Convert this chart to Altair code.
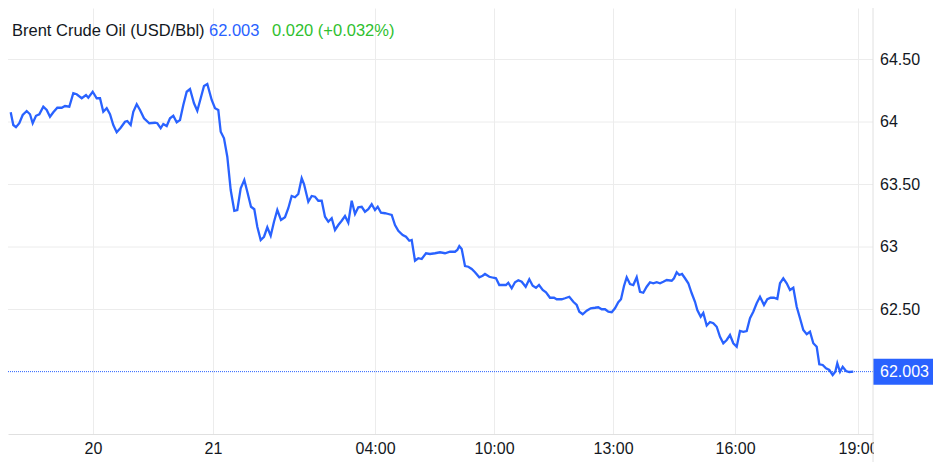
import altair as alt
import pandas as pd

# ---- data ----
bar_pos = [
    1.07, 1.33, 1.6, 1.93, 2.27, 2.67, 3.0, 3.27, 3.6, 3.93,
    4.33, 4.67, 5.0, 5.33, 5.73, 6.17, 6.5, 6.93, 7.33, 7.67,
    8.17, 8.6, 8.83, 9.27, 9.67, 10.0, 10.33, 10.67, 11.0, 11.33,
    11.67, 12.07, 12.5, 12.73, 13.07, 13.33, 13.67, 14.0, 14.4, 14.93,
    15.5, 15.73, 16.07, 16.33, 16.67, 17.0, 17.33, 17.67, 18.0, 18.33,
    18.67, 19.0, 19.4, 19.73, 20.07, 20.4, 20.73, 21.17, 21.5, 21.83,
    22.07, 22.4, 22.73, 23.07, 23.43, 23.73, 24.07, 24.43, 24.73, 25.1,
    25.43, 25.73, 26.07, 26.4, 26.73, 27.07, 27.4, 27.73, 28.1, 28.5,
    28.83, 29.17, 29.5, 29.83, 30.17, 30.4, 30.83, 31.17, 31.5, 31.83,
    32.17, 32.5, 32.83, 33.17, 33.5, 33.83, 34.17, 34.5, 34.83, 35.17,
    35.5, 35.83, 36.17, 36.5, 36.83, 37.17, 37.5, 37.77, 38.1, 38.5,
    38.83, 39.17, 39.5, 39.83, 40.27, 40.6, 40.93, 41.17, 41.5, 41.83,
    42.17, 42.6, 43.0, 43.5, 44.0, 44.5, 45.0, 45.5, 45.73, 45.93,
    46.17, 46.5, 46.83, 47.17, 47.5, 47.93, 48.27, 48.5, 48.93, 49.33,
    49.6, 49.93, 50.33, 50.6, 50.83, 51.17, 51.5, 51.83, 52.17, 52.57,
    52.93, 53.27, 53.6, 53.9, 54.27, 54.6, 55.0, 55.4, 55.67, 56.17,
    56.5, 56.93, 57.33, 57.67, 57.93, 58.27, 58.67, 59.07, 59.5, 59.83,
    60.17, 60.5, 60.83, 61.17, 61.5, 61.83, 62.1, 62.4, 62.67, 63.0,
    63.33, 63.67, 64.0, 64.33, 64.67, 65.0, 65.33, 65.67, 66.0, 66.33,
    66.67, 67.17, 67.4, 67.67, 67.93, 68.2, 68.5, 68.83, 69.17, 69.5,
    69.73, 70.07, 70.33, 70.67, 71.0, 71.33, 71.67, 72.0, 72.33, 72.67,
    73.0, 73.33, 73.67, 74.0, 74.33, 74.67, 75.0, 75.33, 75.67, 76.0,
    76.4, 76.73, 77.07, 77.4, 77.73, 78.0, 78.33, 78.67, 79.0, 79.33,
    79.67, 80.0, 80.33, 80.67, 81.0, 81.33, 81.67, 81.93, 82.27, 82.6,
    82.93, 83.27, 83.53, 83.73, 84.0, 84.27, 84.6, 84.93, 85.33,
]
price = [
    64.078, 63.976, 63.958, 63.990, 64.056, 64.088, 64.062, 63.990, 64.050, 64.062,
    64.122, 64.096, 64.042, 64.078, 64.114, 64.114, 64.128, 64.122, 64.230, 64.222,
    64.190, 64.216, 64.194, 64.242, 64.190, 64.190, 64.082, 64.110, 64.062, 63.976,
    63.918, 63.954, 64.002, 64.008, 63.976, 64.082, 64.142, 64.096, 64.030, 63.990,
    63.994, 63.990, 63.950, 63.984, 63.968, 64.030, 64.050, 63.998, 64.016, 64.136,
    64.242, 64.264, 64.150, 64.090, 64.190, 64.288, 64.304, 64.176, 64.110, 64.096,
    63.922, 63.870, 63.722, 63.456, 63.290, 63.296, 63.470, 63.536, 63.442, 63.322,
    63.302, 63.162, 63.056, 63.082, 63.158, 63.090, 63.202, 63.296, 63.216, 63.238,
    63.310, 63.408, 63.398, 63.424, 63.550, 63.504, 63.362, 63.408, 63.402, 63.370,
    63.370, 63.242, 63.202, 63.230, 63.136, 63.176, 63.210, 63.248, 63.194, 63.370,
    63.264, 63.318, 63.322, 63.282, 63.302, 63.342, 63.296, 63.322, 63.274, 63.270,
    63.264, 63.256, 63.176, 63.130, 63.096, 63.082, 63.050, 63.056, 62.890, 62.910,
    62.904, 62.950, 62.944, 62.950, 62.958, 62.950, 62.962, 62.962, 62.976, 63.008,
    62.984, 62.848, 62.842, 62.824, 62.798, 62.758, 62.770, 62.784, 62.762, 62.754,
    62.750, 62.696, 62.696, 62.696, 62.714, 62.670, 62.718, 62.734, 62.722, 62.682,
    62.742, 62.690, 62.674, 62.696, 62.656, 62.638, 62.594, 62.594, 62.582, 62.582,
    62.590, 62.602, 62.562, 62.536, 62.482, 62.462, 62.490, 62.510, 62.514, 62.518,
    62.502, 62.502, 62.482, 62.478, 62.510, 62.558, 62.582, 62.688, 62.758, 62.704,
    62.696, 62.758, 62.642, 62.634, 62.682, 62.718, 62.710, 62.718, 62.710, 62.722,
    62.736, 62.730, 62.750, 62.798, 62.776, 62.784, 62.750, 62.710, 62.630, 62.562,
    62.496, 62.442, 62.472, 62.372, 62.400, 62.390, 62.362, 62.282, 62.230, 62.256,
    62.296, 62.230, 62.202, 62.328, 62.322, 62.328, 62.430, 62.482, 62.550, 62.602,
    62.536, 62.582, 62.594, 62.594, 62.584, 62.710, 62.750, 62.710, 62.656, 62.674,
    62.522, 62.430, 62.336, 62.302, 62.322, 62.230, 62.202, 62.062, 62.056, 62.030,
    62.016, 61.976, 62.002, 62.070, 62.002, 62.042, 62.008, 62.000, 62.003,
]
x_tick_pos = [9.3, 21.3, 37.5, 49.4, 61.3, 73.5, 85.8]
x_tick_labels = ["20", "21", "04:00", "10:00", "13:00", "16:00", "19:00"]
y_tick_vals = [62.5, 63.0, 63.5, 64.0, 64.5]
y_tick_labels = ["62.50", "63", "63.50", "64", "64.50"]
title_name = "Brent Crude Oil (USD/Bbl)"
last_price = 62.003
change_text = "0.020 (+0.032%)"

n = min(len(bar_pos), len(price))
df = pd.DataFrame({"t": bar_pos[:n], "p": price[:n]})
ydf = pd.DataFrame({"v": y_tick_vals, "label": y_tick_labels})

X_DOMAIN = [0.8, 87.3]
Y_DOMAIN = [61.504, 64.912]
W, H = 865, 426
FONT = "Liberation Sans"
BLUE = "#2962ff"
GREEN = "#2fbf2f"
INK = "#131722"
GRID = "#ececec"
EDGE = "#e0e0e0"

x_expr = "''"
for pos, lab in reversed(list(zip(x_tick_pos, x_tick_labels))):
    x_expr = f"abs(datum.value - {pos}) < 0.01 ? '{lab}' : " + x_expr

xscale = alt.Scale(domain=X_DOMAIN, nice=False, zero=False)
yscale = alt.Scale(domain=Y_DOMAIN, nice=False, zero=False)

# horizontal grid lines and right-hand price labels
hgrid = alt.Chart(ydf).mark_rule(color=GRID, strokeWidth=1).encode(
    y=alt.Y("v:Q", scale=yscale, axis=None)
)
ylabels = alt.Chart(ydf).mark_text(
    align="left", baseline="middle", fontSize=16, font=FONT, color=INK
).encode(
    x=alt.value(W + 7),
    y=alt.Y("v:Q", scale=yscale, axis=None),
    text="label:N",
)

line = alt.Chart(df).mark_line(color=BLUE, strokeWidth=2.3).encode(
    x=alt.X("t:Q", scale=xscale,
            axis=alt.Axis(values=x_tick_pos, labelExpr=x_expr, grid=True,
                          gridColor=GRID, domainColor=EDGE, ticks=False,
                          labelPadding=6, labelFontSize=16, labelColor=INK,
                          labelFont=FONT, title=None, labelFlush=False,
                          labelOverlap=False)),
    y=alt.Y("p:Q", scale=yscale, axis=None),
)

last_df = pd.DataFrame({"p": [last_price], "hi": [last_price + 0.104],
                        "lo": [last_price - 0.104],
                        "label": [f"{last_price:.3f}"]})

price_rule = alt.Chart(last_df).mark_rule(color=BLUE, strokeWidth=1, strokeDash=[1, 1]).encode(
    y=alt.Y("p:Q", scale=yscale, axis=None)
)
price_box = alt.Chart(last_df).mark_rect(color=BLUE).encode(
    x=alt.value(W),
    x2=alt.value(W + 60),
    y=alt.Y("hi:Q", scale=yscale, axis=None),
    y2="lo:Q",
)
price_text = alt.Chart(last_df).mark_text(
    align="left", baseline="middle", color="white", fontSize=16, font=FONT
).encode(
    x=alt.value(W + 7),
    y=alt.Y("p:Q", scale=yscale, axis=None),
    text="label:N",
)

one = pd.DataFrame({"a": [0]})
cover = alt.Chart(one).mark_rect(color="white").encode(
    x=alt.value(W + 1), x2=alt.value(W + 60), y=alt.value(H + 1), y2=alt.value(H + 30)
)
edge = alt.Chart(one).mark_rule(color=EDGE).encode(
    x=alt.value(W), y=alt.value(0), y2=alt.value(H + 28)
)

TS = 16.5
t1 = alt.Chart(one).mark_text(align="left", baseline="middle", fontSize=TS, font=FONT, color=INK).encode(
    x=alt.value(4), y=alt.value(23), text=alt.value(title_name))
t2 = alt.Chart(one).mark_text(align="left", baseline="middle", fontSize=TS, font=FONT, color=BLUE).encode(
    x=alt.value(201), y=alt.value(23), text=alt.value(f"{last_price:.3f}"))
t3 = alt.Chart(one).mark_text(align="left", baseline="middle", fontSize=TS, font=FONT, color=GREEN).encode(
    x=alt.value(264), y=alt.value(23), text=alt.value(change_text))

chart = alt.layer(
    hgrid, line, price_rule, price_box, price_text, ylabels, cover, edge, t1, t2, t3
).properties(
    width=W, height=H,
    autosize=alt.AutoSizeParams(type="none"),
    padding={"left": 0, "top": 0, "right": 60, "bottom": 30},
).configure(font=FONT, view=alt.ViewConfig(stroke=None))

chart.save("out.html", embed_options={"renderer": "svg", "actions": False})
